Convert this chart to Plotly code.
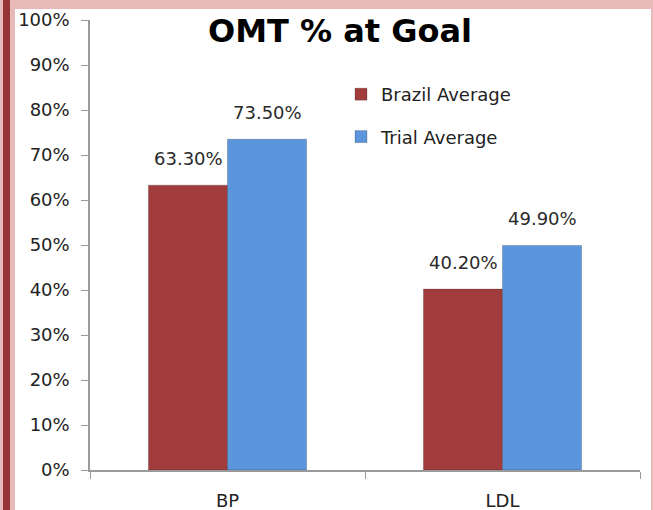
import plotly.graph_objects as go

categories = ["BP", "LDL"]
brazil_avg = [63.3, 40.2]
trial_avg = [73.5, 49.9]
series_names = ["Brazil Average", "Trial Average"]
y_ticks = [0, 10, 20, 30, 40, 50, 60, 70, 80, 90, 100]
y_tick_labels = [f"{v}%" for v in y_ticks]

RED = "#A03D3C"
BLUE = "#5B96DD"
FONT = "DejaVu Sans"
L, R, T, B = 90, 13, 20, 40
PW, PH = 653 - L - R, 510 - T - B
BAR_PX = 79

fig = go.Figure()
for name, vals, col, grp in [(series_names[0], brazil_avg, RED, "a"),
                             (series_names[1], trial_avg, BLUE, "b")]:
    fig.add_trace(go.Bar(
        x=categories, y=vals, name=name, legendgroup=grp,
        marker=dict(color=col, line=dict(color="rgba(0,0,0,0.2)", width=1)),
    ))

# value labels above bars
for vals, shift in [(brazil_avg, -BAR_PX / 2), (trial_avg, BAR_PX / 2)]:
    for c, v in zip(categories, vals):
        fig.add_annotation(x=c, y=v, xref="x", yref="y", text=f"{v:.2f}%",
                           showarrow=False, xshift=shift, yshift=14, yanchor="bottom",
                           font=dict(family=FONT, size=18, color="#2a2a2a"))

fig.update_layout(
    width=653, height=510,
    margin=dict(l=L, r=R, t=T, b=B, autoexpand=False),
    paper_bgcolor="white", plot_bgcolor="white",
    barmode="group", bargap=0.425, bargroupgap=0,
    title=dict(text="<b>OMT % at Goal</b>", x=340/653, xref="container", xanchor="center",
               y=1-31/510, yref="container", yanchor="middle",
               font=dict(family="DejaVu Sans", size=32, color="black")),
    legend=dict(x=(341-L)/PW, y=1-(76-T)/PH, xanchor="left", yanchor="top",
                traceorder="grouped", tracegroupgap=16,
                font=dict(family=FONT, size=18, color="#222222"),
                bgcolor="rgba(0,0,0,0)"),
    showlegend=True,
    font=dict(family=FONT, size=18, color="#222222"),
)
fig.update_yaxes(range=[0, 100], tickvals=y_ticks, ticktext=y_tick_labels,
                 showgrid=False, zeroline=False, showline=True, linecolor="#9a9a9a",
                 linewidth=1.5, ticks="outside", ticklen=7, tickcolor="#9a9a9a",
                 ticklabelstandoff=8,
                 tickfont=dict(family=FONT, size=18, color="#222222"))
fig.update_xaxes(showgrid=False, showline=True, linecolor="#9a9a9a", linewidth=1.5,
                 ticks="outside", tickson="boundaries", ticklen=7, tickcolor="#9a9a9a",
                 tickfont=dict(family=FONT, size=18, color="#222222"),
                 ticklabelstandoff=14)

# decorative frame
def px_x(p):
    return (p - L) / PW

def px_y(p):
    return 1 - (p - T) / PH

fig.add_shape(type="rect", xref="paper", yref="paper", x0=px_x(0), x1=px_x(653),
              y0=px_y(9), y1=px_y(0), fillcolor="#E8B9B9", line_width=0, layer="above")
fig.add_shape(type="rect", xref="paper", yref="paper", x0=px_x(0), x1=px_x(15),
              y0=px_y(510), y1=px_y(0), fillcolor="#E8B9B9", line_width=0, layer="above")
fig.add_shape(type="rect", xref="paper", yref="paper", x0=px_x(3), x1=px_x(10),
              y0=px_y(510), y1=px_y(0), fillcolor="#953535", line_width=0, layer="above")
fig.add_shape(type="rect", xref="paper", yref="paper", x0=px_x(651), x1=px_x(653),
              y0=px_y(510), y1=px_y(0), fillcolor="#E8B9B9", line_width=0, layer="above")

fig.write_html("out.html", config={"displayModeBar": False},
               post_script="document.body.style.margin='0';document.body.style.overflow='hidden';")
